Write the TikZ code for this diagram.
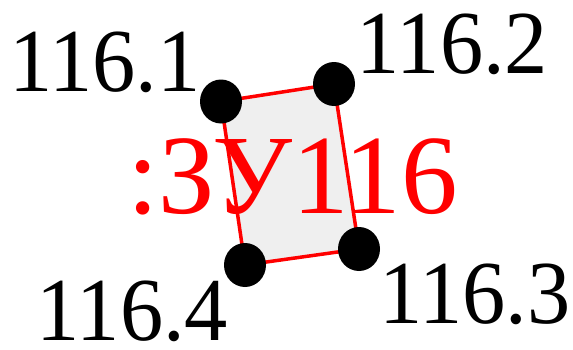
\documentclass[tikz,border=0pt]{standalone}
\usepackage{fontspec}
\setmainfont{Liberation Serif}
\newfontfamily\narrowfont[FakeStretch=0.96]{Liberation Serif}
\usetikzlibrary{shapes.geometric}
\begin{document}
\begin{tikzpicture}[x=1pt,y=1pt,
  dot/.style={ellipse,fill=black,minimum width=42pt,minimum height=44pt,inner sep=0pt},
  lbl/.style={anchor=base,inner sep=0pt,font=\narrowfont\fontsize{90}{90}\selectfont},
  title/.style={anchor=base,inner sep=0pt,text=red,font=\fontsize{113}{113}\selectfont},
  body/.style={draw=red,line width=3.5pt,fill={rgb,255:red,239;green,239;blue,239},line join=round}]
\useasboundingbox (0,0) rectangle (573,349);
\coordinate (p1) at (221,247.5);
\coordinate (p2) at (334,265);
\coordinate (p3) at (359,100);
\coordinate (p4) at (245,84);
\draw[body] (p1) -- (p2) -- (p3) -- (p4) -- cycle;
\node[title] (t) at (292.5,136) {:ЗУ116};
\node[dot] (d1) at (p1) {};
\node[dot] (d2) at (p2) {};
\node[dot] (d3) at (p3) {};
\node[dot] (d4) at (p4) {};
\node[lbl] (l1) at (105,258) {116.1};
\node[lbl] (l2) at (452.5,276) {116.2};
\node[lbl] (l3) at (475,26) {116.3};
\node[lbl] (l4) at (132.5,9) {116.4};
\end{tikzpicture}
\end{document}
